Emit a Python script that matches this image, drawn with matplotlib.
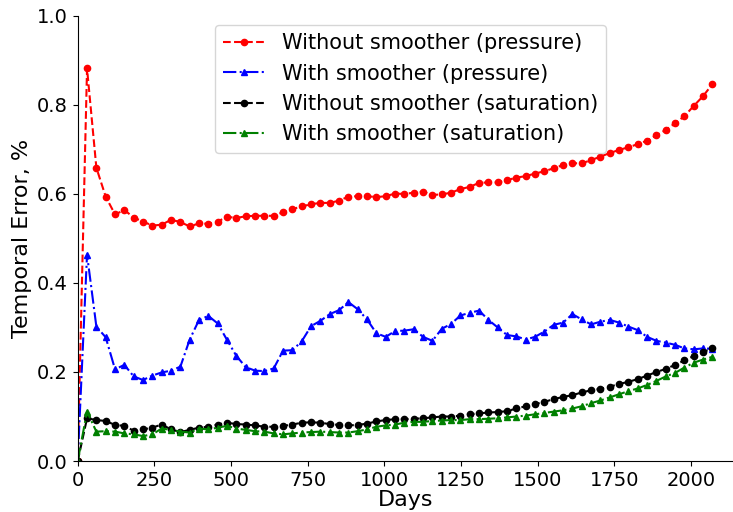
import numpy as np
import matplotlib
matplotlib.use("Agg")
from matplotlib import pyplot as plt

# monthly report steps, 0 .. 2070 days
days = np.linspace(0, 2070, 69)

p_no_smooth = [
    0.0, 0.882, 0.659, 0.594, 0.554, 0.564, 0.547, 0.538, 0.529, 0.531,
    0.542, 0.537, 0.527, 0.534, 0.533, 0.538, 0.549, 0.546, 0.550, 0.551,
    0.551, 0.551, 0.559, 0.566, 0.572, 0.577, 0.580, 0.580, 0.585, 0.594,
    0.595, 0.595, 0.593, 0.595, 0.601, 0.600, 0.603, 0.605, 0.598, 0.599,
    0.603, 0.611, 0.616, 0.625, 0.626, 0.626, 0.631, 0.637, 0.640, 0.646,
    0.651, 0.658, 0.665, 0.669, 0.669, 0.676, 0.684, 0.692, 0.699, 0.705,
    0.712, 0.720, 0.732, 0.744, 0.759, 0.775, 0.798, 0.820, 0.847,
]
p_smooth = [
    0.0, 0.464, 0.302, 0.278, 0.206, 0.216, 0.190, 0.182, 0.192, 0.199,
    0.203, 0.212, 0.273, 0.317, 0.326, 0.309, 0.272, 0.236, 0.211, 0.203,
    0.202, 0.208, 0.248, 0.249, 0.269, 0.303, 0.315, 0.330, 0.339, 0.357,
    0.341, 0.318, 0.287, 0.279, 0.292, 0.293, 0.296, 0.279, 0.270, 0.297,
    0.308, 0.327, 0.333, 0.338, 0.317, 0.300, 0.283, 0.280, 0.273, 0.279,
    0.291, 0.306, 0.311, 0.330, 0.318, 0.307, 0.313, 0.317, 0.311, 0.302,
    0.294, 0.279, 0.270, 0.266, 0.261, 0.253, 0.251, 0.253, 0.252,
]
s_no_smooth = [
    0.0, 0.096, 0.092, 0.090, 0.081, 0.079, 0.068, 0.071, 0.075, 0.082,
    0.071, 0.065, 0.070, 0.075, 0.077, 0.082, 0.086, 0.083, 0.082, 0.080,
    0.077, 0.077, 0.079, 0.082, 0.086, 0.087, 0.086, 0.083, 0.081, 0.080,
    0.081, 0.084, 0.089, 0.092, 0.094, 0.094, 0.095, 0.096, 0.098, 0.100,
    0.100, 0.102, 0.105, 0.107, 0.109, 0.110, 0.112, 0.118, 0.123, 0.128,
    0.133, 0.139, 0.144, 0.148, 0.154, 0.159, 0.162, 0.167, 0.173, 0.178,
    0.184, 0.192, 0.200, 0.207, 0.216, 0.226, 0.236, 0.245, 0.253,
]
s_smooth = [
    0.0, 0.111, 0.066, 0.067, 0.066, 0.062, 0.060, 0.056, 0.060, 0.073,
    0.070, 0.066, 0.064, 0.073, 0.071, 0.075, 0.079, 0.073, 0.070, 0.067,
    0.066, 0.062, 0.060, 0.062, 0.064, 0.065, 0.066, 0.065, 0.064, 0.064,
    0.067, 0.071, 0.077, 0.080, 0.082, 0.086, 0.088, 0.088, 0.090, 0.091,
    0.092, 0.092, 0.094, 0.094, 0.095, 0.096, 0.098, 0.100, 0.102, 0.105,
    0.108, 0.111, 0.114, 0.118, 0.123, 0.130, 0.136, 0.143, 0.150, 0.157,
    0.163, 0.171, 0.180, 0.190, 0.198, 0.210, 0.221, 0.228, 0.234,
]

fig = plt.figure(figsize=(7.33, 5.12), dpi=100)
ax = fig.add_axes([0.106, 0.0996, 0.894, 0.8692])

ax.plot(days, p_no_smooth, 'r--', marker='o', markersize=4.5,
        label='Without smoother (pressure)')
ax.plot(days, p_smooth, 'b-.', marker='^', markersize=4.5,
        label='With smoother (pressure)')
ax.plot(days, s_no_smooth, 'k--', marker='o', markersize=4.5,
        label='Without smoother (saturation)')
ax.plot(days, s_smooth, 'g-.', marker='^', markersize=4.5,
        label='With smoother (saturation)')

ax.set_xlim(0, 2137)
ax.set_ylim(0, 1.0)
ax.set_xticks([0, 250, 500, 750, 1000, 1250, 1500, 1750, 2000])
ax.spines['top'].set_visible(False)
ax.spines['right'].set_visible(False)
ax.tick_params(labelsize=14)
ax.set_xlabel('Days', fontsize=16, labelpad=0)
ax.set_ylabel('Temporal Error, %', fontsize=16)
ax.legend(loc='upper left', fontsize=15, bbox_to_anchor=(0.2096, 0.98),
          borderaxespad=0)

plt.savefig('out.png', dpi=100)
